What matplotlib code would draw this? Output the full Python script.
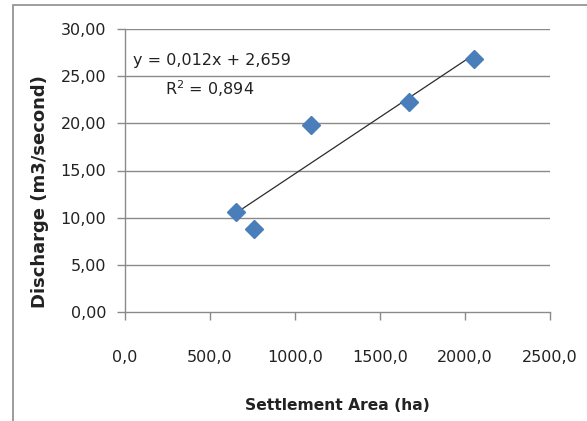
import numpy as np
import matplotlib
matplotlib.use("Agg")
import matplotlib.pyplot as plt
from matplotlib.patches import Rectangle

# data
area_ha = [651, 759, 1092, 1669, 2051]
discharge = [10.63, 8.80, 19.83, 22.24, 26.80]
slope = 0.012
intercept = 2.659
r2 = 0.894

x_ticks = [0, 500, 1000, 1500, 2000, 2500]
y_ticks = [0, 5, 10, 15, 20, 25, 30]

plt.rcParams['font.family'] = ['DejaVu Sans']

fig = plt.figure(figsize=(5.87, 4.21), dpi=100)
ax = fig.add_axes([125 / 587, 1 - 312 / 421, 425 / 587, 283 / 421])

# outer chart frame (only left and top edges visible)
fig.patches.append(Rectangle((13 / 587, -0.1), 1.2, 1 - 5 / 421 + 0.1,
                             transform=fig.transFigure, fill=False,
                             edgecolor='#8c8c8c', linewidth=1.2))

grid_col = '#8a8a8a'
for yv in y_ticks[1:]:
    ax.axhline(yv, color=grid_col, linewidth=1.0, zorder=1)

# trendline across the data range
xs = np.array([min(area_ha), max(area_ha)])
ax.plot(xs, slope * xs + intercept, color='#2b2b2b', linewidth=0.9, zorder=3)

ax.plot(area_ha, discharge, linestyle='none', marker='D', markersize=9,
        color='#4a7ebb', markeredgecolor='#4a7ebb', zorder=4)

ax.set_xlim(0, 2500)
ax.set_ylim(0, 30)
ax.set_xticks(x_ticks)
ax.set_yticks(y_ticks)
ax.set_xticklabels([f"{v:.1f}".replace('.', ',') for v in x_ticks])
ax.set_yticklabels([f"{v:.2f}".replace('.', ',') for v in y_ticks])

for side in ['top', 'right']:
    ax.spines[side].set_visible(False)
for side in ['left', 'bottom']:
    ax.spines[side].set_color(grid_col)
    ax.spines[side].set_linewidth(1.0)

ax.tick_params(axis='both', colors=grid_col, length=5.5, width=1.0,
               labelsize=11.5, labelcolor='#222222')
ax.tick_params(axis='x', pad=22)
ax.tick_params(axis='y', pad=8)

ax.annotate("y = 0,012x + 2,659", xy=(212 / 587, 1 - 60 / 421),
            xycoords='figure fraction', ha='center', va='center',
            fontsize=11.5, color='#222222')
ax.annotate("R$^2$ = 0,894", xy=(210 / 587, 1 - 89 / 421),
            xycoords='figure fraction', ha='center', va='center',
            fontsize=11.5, color='#222222')

fig.text(337 / 587, 1 - 405 / 421, "Settlement Area (ha)", ha='center',
         va='center', fontsize=11.2, fontweight='bold', color='#222222')
fig.text(40 / 587, 1 - 192 / 421, "Discharge (m3/second)", ha='center',
         va='center', rotation=90, fontsize=13, fontweight='bold',
         color='#222222')

fig.savefig("out.png", dpi=100)
